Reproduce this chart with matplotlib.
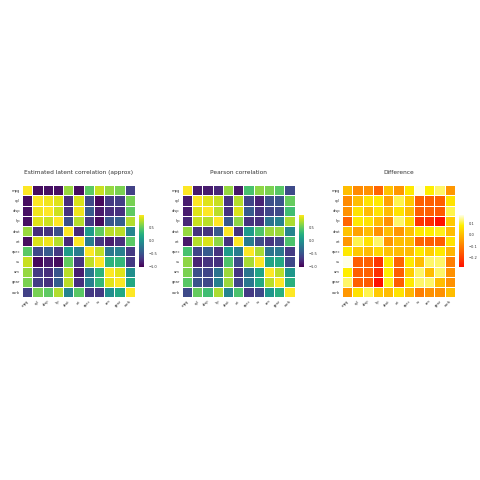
import numpy as np
import matplotlib.pyplot as plt
from matplotlib.colors import LinearSegmentedColormap

# Variables (mtcars)
variables = ['mpg', 'cyl', 'disp', 'hp', 'drat', 'wt', 'qsec', 'vs', 'am', 'gear', 'carb']

# Estimated latent correlation (approx)
latent = [
    [1.00, -0.93, -0.92, -0.92, 0.69, -0.93, 0.49, 0.83, 0.68, 0.60, -0.61],
    [-0.93, 1.00, 0.96, 0.90, -0.74, 0.89, -0.57, -0.96, -0.67, -0.64, 0.59],
    [-0.92, 0.96, 1.00, 0.85, -0.71, 0.95, -0.43, -0.86, -0.74, -0.72, 0.50],
    [-0.92, 0.90, 0.85, 1.00, -0.52, 0.78, -0.67, -0.94, -0.47, -0.41, 0.77],
    [0.69, -0.74, -0.71, -0.52, 1.00, -0.77, 0.10, 0.51, 0.79, 0.79, -0.09],
    [-0.93, 0.89, 0.95, 0.78, -0.77, 1.00, -0.17, -0.69, -0.84, -0.73, 0.49],
    [0.49, -0.57, -0.43, -0.67, 0.10, -0.17, 1.00, 0.81, -0.20, -0.14, -0.67],
    [0.83, -0.96, -0.86, -0.94, 0.51, -0.69, 0.81, 1.00, 0.29, 0.33, -0.67],
    [0.68, -0.67, -0.74, -0.47, 0.79, -0.84, -0.20, 0.29, 1.00, 0.91, -0.01],
    [0.60, -0.64, -0.72, -0.41, 0.79, -0.73, -0.14, 0.33, 0.91, 1.00, 0.20],
    [-0.61, 0.59, 0.50, 0.77, -0.09, 0.49, -0.67, -0.67, -0.01, 0.20, 1.00],
]

# Pearson correlation
pearson = [
    [1.00, -0.85, -0.85, -0.78, 0.68, -0.87, 0.42, 0.66, 0.60, 0.48, -0.55],
    [-0.85, 1.00, 0.90, 0.83, -0.70, 0.78, -0.59, -0.81, -0.52, -0.49, 0.53],
    [-0.85, 0.90, 1.00, 0.79, -0.71, 0.89, -0.43, -0.71, -0.59, -0.56, 0.39],
    [-0.78, 0.83, 0.79, 1.00, -0.45, 0.66, -0.71, -0.72, -0.24, -0.13, 0.75],
    [0.68, -0.70, -0.71, -0.45, 1.00, -0.71, 0.09, 0.44, 0.71, 0.70, -0.09],
    [-0.87, 0.78, 0.89, 0.66, -0.71, 1.00, -0.17, -0.55, -0.69, -0.58, 0.43],
    [0.42, -0.59, -0.43, -0.71, 0.09, -0.17, 1.00, 0.74, -0.23, -0.21, -0.66],
    [0.66, -0.81, -0.71, -0.72, 0.44, -0.55, 0.74, 1.00, 0.17, 0.21, -0.57],
    [0.60, -0.52, -0.59, -0.24, 0.71, -0.69, -0.23, 0.17, 1.00, 0.79, 0.06],
    [0.48, -0.49, -0.56, -0.13, 0.70, -0.58, -0.21, 0.21, 0.79, 1.00, 0.27],
    [-0.55, 0.53, 0.39, 0.75, -0.09, 0.43, -0.66, -0.57, 0.06, 0.27, 1.00],
]

titles = ['Estimated latent correlation (approx)', 'Pearson correlation', 'Difference']

latent = np.array(latent)
pearson = np.array(pearson)
difference = latent - pearson

# Colormap tipo heat.colors (rojo -> naranja -> amarillo -> blanco)
heat = LinearSegmentedColormap.from_list(
    'heat', [(0.0, '#ff1000'), (0.45, '#ff8c00'), (0.8, '#ffee00'), (1.0, '#ffffe8')])

fig = plt.figure(figsize=(4.8, 4.8), dpi=100)
text_color = '#333333'

panels = [
    (latent, 'viridis', -1.0, 1.0, [-1.0, -0.5, 0.0, 0.5]),
    (pearson, 'viridis', -1.0, 1.0, [-1.0, -0.5, 0.0, 0.5]),
    (difference, heat, difference.min(), difference.max(), [-0.2, -0.1, 0.0, 0.1]),
]
lefts = [0.046, 0.379, 0.7125]

for left, title, (values, cmap, vmin, vmax, cticks) in zip(lefts, titles, panels):
    ax = fig.add_axes([left, 0.381, 0.235, 0.233])
    mesh = ax.pcolormesh(values, cmap=cmap, vmin=vmin, vmax=vmax,
                         edgecolors='white', linewidth=0.6)
    ax.set_xlim(0, len(variables))
    ax.set_ylim(len(variables), 0)
    ax.set_xticks(np.arange(len(variables)) + 0.5)
    ax.set_yticks(np.arange(len(variables)) + 0.5)
    ax.set_xticklabels(variables, rotation=45, ha='right', rotation_mode='anchor')
    ax.set_yticklabels(variables)
    ax.tick_params(length=0, labelsize=2.6, labelcolor=text_color, pad=1.5)
    for spine in ax.spines.values():
        spine.set_visible(False)
    ax.set_title(title, fontsize=4.2, color=text_color, pad=8)

    # Barra de color
    cax = fig.add_axes([left + 0.2437, 0.444, 0.011, 0.108])
    cbar = fig.colorbar(mesh, cax=cax, ticks=cticks)
    cbar.outline.set_visible(False)
    cbar.ax.tick_params(length=0, labelsize=2.6, labelcolor=text_color, pad=3)

fig.savefig('out.png', dpi=100)
plt.close()
